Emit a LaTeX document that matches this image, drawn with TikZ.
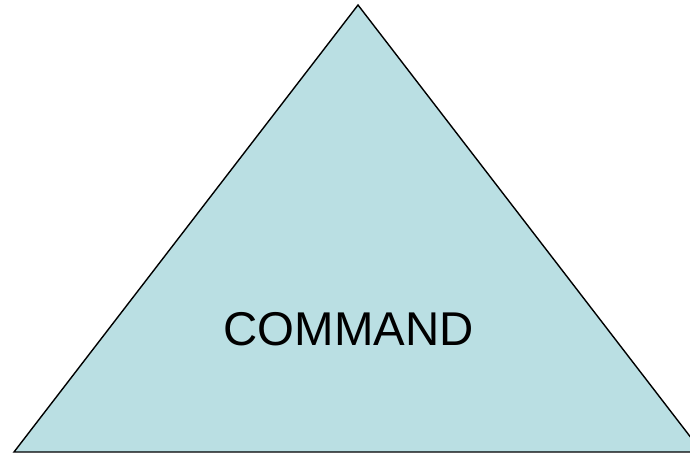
\documentclass[tikz,border=0pt]{standalone}
\usepackage{fontspec}
\setmainfont{Liberation Sans}
\usetikzlibrary{positioning}
\definecolor{cpale}{HTML}{BADFE3}
\tikzset{
  every picture/.style={line width=1.4pt},
  tri/.style={draw=black, fill=cpale, line join=miter},
  label/.style={font=\fontsize{47.4pt}{50pt}\selectfont, inner sep=0pt},
}
\begin{document}
\begin{tikzpicture}[x=1pt, y=-1pt]
  \useasboundingbox (0,0) rectangle (690,454);
  \begin{scope}
    \clip (0,0) rectangle (690,454);
    % the pyramid
    \coordinate (top) at (358,5);
    \coordinate (bl) at (14,452);
    \coordinate (br) at (702,452);
    \draw[tri] (top) -- (br) -- (bl) -- cycle;
  \end{scope}
  \node[label] (cmd) at (348.5,329.5) {COMMAND};
\end{tikzpicture}
\end{document}
